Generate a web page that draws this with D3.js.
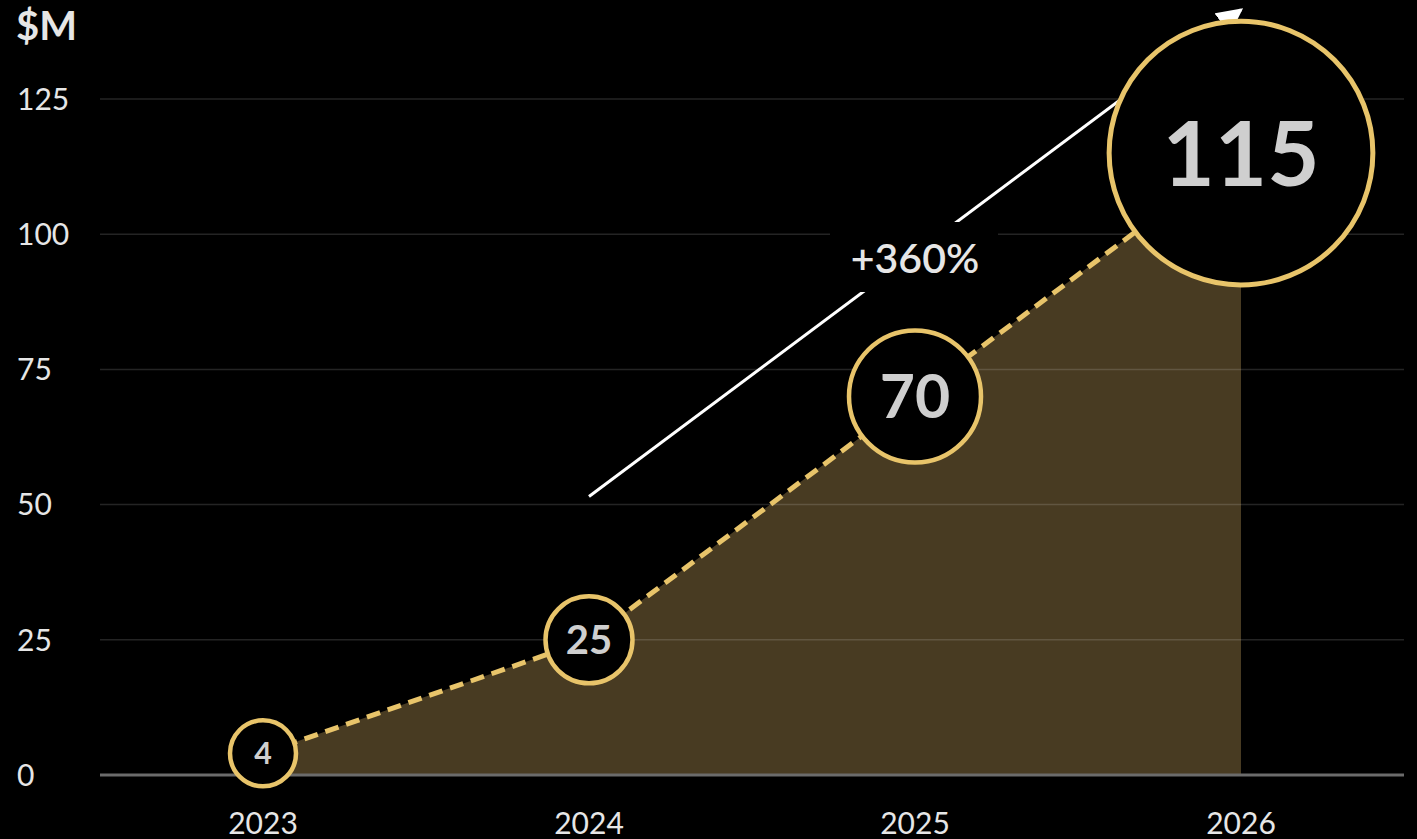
<!DOCTYPE html>
<html>
<head>
<meta charset="utf-8">
<script src="https://d3js.org/d3.v7.min.js"></script>
<style>
  html, body { margin: 0; padding: 0; background: #000; }
  svg { display: block; font-family: Lato, "Open Sans", sans-serif; }
</style>
</head>
<body>
<svg width="1417" height="839"></svg>
<script>
  // chart values
  var years = ["2023", "2024", "2025", "2026"];
  var revenue = [4, 25, 70, 115];
  var yTicks = [0, 25, 50, 75, 100, 125];
  var unitLabel = "$M";
  var growthLabel = "+360%";
  // arrow annotation in data terms: [year, value]
  var arrowFrom = ["2024", 51.5];
  var arrowTo = ["2026", 141.5];

  var data = years.map(function (yr, i) { return { year: yr, value: revenue[i] }; });

  var svg = d3.select("svg");
  var plotLeft = 100, plotRight = 1404, plotTop = 99, plotBottom = 775;

  var x = d3.scalePoint().domain(years).range([plotLeft, plotRight]).padding(0.5);
  var y = d3.scaleLinear().domain([0, 125]).range([plotBottom, plotTop]);
  var rScale = d3.scaleLinear().domain([0, 115]).range([31, 88.5]);

  var gold = "#e8c46a";

  // area under the line
  svg.append("path")
    .datum(data)
    .attr("d", d3.area()
      .x(function (d) { return x(d.year); })
      .y0(y(0))
      .y1(function (d) { return y(d.value); }))
    .style("fill", "#483b22");

  // grid lines
  svg.append("g")
    .selectAll("line")
    .data(yTicks.filter(function (t) { return t > 0; }))
    .enter()
    .append("line")
    .attr("x1", plotLeft)
    .attr("x2", plotRight)
    .attr("y1", function (d) { return y(d); })
    .attr("y2", function (d) { return y(d); })
    .style("stroke", "rgba(255,255,255,0.14)")
    .style("stroke-width", 1.5);

  // baseline
  svg.append("line")
    .attr("x1", plotLeft).attr("x2", plotRight)
    .attr("y1", y(0)).attr("y2", y(0))
    .style("stroke", "#6b6b6b")
    .style("stroke-width", 3);

  // y tick labels
  svg.append("g")
    .selectAll("text")
    .data(yTicks)
    .enter()
    .append("text")
    .attr("x", 17)
    .attr("y", function (d) { return y(d); })
    .attr("dy", "0.36em")
    .style("font-size", "30px")
    .style("fill", "#e6e6e6")
    .text(function (d) { return d; });

  // x tick labels
  svg.append("g")
    .selectAll("text")
    .data(years)
    .enter()
    .append("text")
    .attr("x", function (d) { return x(d); })
    .attr("y", 834)
    .attr("text-anchor", "middle")
    .style("font-size", "30px")
    .style("fill", "#e6e6e6")
    .text(function (d) { return d; });

  // unit label
  svg.append("text")
    .attr("x", 16)
    .attr("y", 40)
    .style("font-size", "40px")
    .style("font-weight", "bold")
    .style("fill", "#e6e6e6")
    .text(unitLabel);

  // growth arrow
  svg.append("defs").append("marker")
    .attr("id", "head")
    .attr("viewBox", "0 0 10 10")
    .attr("refX", 9).attr("refY", 5)
    .attr("markerWidth", 26).attr("markerHeight", 26)
    .attr("markerUnits", "userSpaceOnUse")
    .attr("orient", "auto")
    .append("path")
    .attr("d", "M0,0 L10,5 L0,10 z")
    .style("fill", "#fff");

  svg.append("line")
    .attr("x1", x(arrowFrom[0])).attr("y1", y(arrowFrom[1]))
    .attr("x2", x(arrowTo[0])).attr("y2", y(arrowTo[1]))
    .style("stroke", "#fff")
    .style("stroke-width", 3)
    .attr("marker-end", "url(#head)");

  // growth label with black box
  var lx = x("2025"), ly = 258;
  svg.append("rect")
    .attr("x", lx - 85).attr("y", ly - 36)
    .attr("width", 168).attr("height", 70)
    .style("fill", "#000");
  svg.append("text")
    .attr("x", lx)
    .attr("y", ly)
    .attr("dy", "0.36em")
    .attr("text-anchor", "middle")
    .style("font-size", "41px")
    .style("font-weight", "600")
    .style("fill", "#e6e6e6")
    .text(growthLabel);

  // dashed line
  svg.append("path")
    .datum(data)
    .attr("d", d3.line()
      .x(function (d) { return x(d.year); })
      .y(function (d) { return y(d.value); }))
    .style("fill", "none")
    .style("stroke", gold)
    .style("stroke-width", 5)
    .style("stroke-dasharray", "14,8");

  // value bubbles
  var last = data.length - 1;
  var bubbles = svg.append("g")
    .selectAll("g")
    .data(data)
    .enter()
    .append("g")
    .attr("transform", function (d) { return "translate(" + x(d.year) + "," + y(d.value) + ")"; });

  bubbles.append("circle")
    .attr("r", function (d, i) { return rScale(d.value) * (i === last ? 1.49 : 1); })
    .style("fill", "#000")
    .style("stroke", gold)
    .style("stroke-width", function (d, i) { return i === last ? 5 : 4.5; });

  bubbles.append("text")
    .attr("text-anchor", "middle")
    .attr("dy", "0.36em")
    .style("font-size", function (d, i) { return (rScale(d.value) * (i === last ? 1.02 : 0.92)) + "px"; })
    .style("font-weight", "bold")
    .style("fill", "#cfcfcf")
    .text(function (d) { return d.value; });
</script>
</body>
</html>
